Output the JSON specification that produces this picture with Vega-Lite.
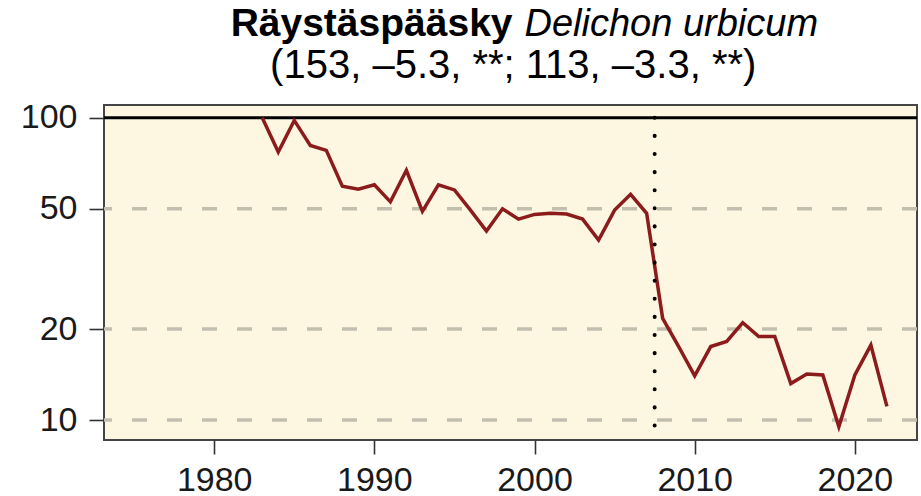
{
  "$schema": "https://vega.github.io/schema/vega-lite/v6.json",
  "autosize": {"type": "none"},
  "width": 813,
  "height": 335,
  "padding": {"left": 104, "top": 105, "right": 4, "bottom": 56},
  "background": "white",
  "config": {
    "view": {"fill": "#fdf7e2", "stroke": "#454545", "strokeWidth": 2},
    "font": "Liberation Sans",
    "axis": {
      "grid": false,
      "domain": false,
      "labelFont": "Liberation Sans",
      "labelFontSize": 34,
      "labelColor": "#1a1a1a",
      "tickColor": "#333333",
      "tickWidth": 1.6,
      "title": null
    }
  },
  "layer": [
    {
      "data": {"values": [{"v": 50}, {"v": 20}, {"v": 10}]},
      "mark": {"type": "rule", "color": "#c2bfae", "strokeWidth": 3.5, "strokeDash": [15, 20]},
      "encoding": {"y": {"field": "v", "type": "quantitative"}}
    },
    {
      "data": {"values": [{"v": 100}]},
      "mark": {"type": "rule", "color": "#000000", "strokeWidth": 3},
      "encoding": {"y": {"field": "v", "type": "quantitative"}}
    },
    {
      "data": {"values": [
        {"year": 1983, "index": 100},
        {"year": 1984, "index": 77},
        {"year": 1985, "index": 98},
        {"year": 1986, "index": 81},
        {"year": 1987, "index": 78},
        {"year": 1988, "index": 59.4},
        {"year": 1989, "index": 58},
        {"year": 1990, "index": 60},
        {"year": 1991, "index": 52.7},
        {"year": 1992, "index": 67},
        {"year": 1993, "index": 49},
        {"year": 1994, "index": 60},
        {"year": 1995, "index": 57.7},
        {"year": 1996, "index": 49.5},
        {"year": 1997, "index": 42.2},
        {"year": 1998, "index": 50},
        {"year": 1999, "index": 46.2},
        {"year": 2000, "index": 47.9},
        {"year": 2001, "index": 48.3},
        {"year": 2002, "index": 48},
        {"year": 2003, "index": 46.2},
        {"year": 2004, "index": 39.4},
        {"year": 2005, "index": 49.5},
        {"year": 2006, "index": 55.8},
        {"year": 2007, "index": 48.3},
        {"year": 2008, "index": 21.7},
        {"year": 2009, "index": 17.5},
        {"year": 2010, "index": 14},
        {"year": 2011, "index": 17.5},
        {"year": 2012, "index": 18.2},
        {"year": 2013, "index": 21},
        {"year": 2014, "index": 18.9},
        {"year": 2015, "index": 18.9},
        {"year": 2016, "index": 13.2},
        {"year": 2017, "index": 14.2},
        {"year": 2018, "index": 14.1},
        {"year": 2019, "index": 9.5},
        {"year": 2020, "index": 14.1},
        {"year": 2021, "index": 17.7},
        {"year": 2022, "index": 11.1}
      ]},
      "mark": {"type": "line", "color": "#8c1c1c", "strokeWidth": 3.5, "strokeJoin": "miter"},
      "encoding": {
        "x": {
          "field": "year", "type": "quantitative",
          "scale": {"domain": [1973.12, 2023.88], "nice": false, "zero": false},
          "axis": {"values": [1980, 1990, 2000, 2010, 2020], "format": "d", "tickSize": 14, "labelPadding": 9, "labelFlush": false}
        },
        "y": {
          "field": "index", "type": "quantitative",
          "scale": {"type": "log", "domain": [8.59, 110.2], "nice": false},
          "axis": {"values": [10, 20, 50, 100], "format": "d", "tickSize": 15, "labelPadding": 12}
        }
      }
    },
    {
      "data": {"values": [{"year": 2007.5, "lo": 8.59, "hi": 100}]},
      "mark": {"type": "rule", "color": "#000000", "strokeWidth": 4, "strokeDash": [0.1, 18], "strokeCap": "round"},
      "encoding": {
        "x": {"field": "year", "type": "quantitative"},
        "y": {"field": "hi", "type": "quantitative"},
        "y2": {"field": "lo"}
      }
    },
    {
      "data": {"values": [{"t": "Räystäspääsky"}]},
      "mark": {"type": "text", "font": "Liberation Sans", "fontWeight": "bold", "fontSize": 39, "align": "right", "baseline": "alphabetic", "dx": -6, "color": "#000000"},
      "encoding": {"text": {"field": "t"}, "x": {"datum": 1999}, "y": {"datum": 186.3}}
    },
    {
      "data": {"values": [{"t": "Delichon urbicum"}]},
      "mark": {"type": "text", "font": "Liberation Sans", "fontStyle": "italic", "fontSize": 38, "align": "left", "baseline": "alphabetic", "dx": 6, "color": "#000000"},
      "encoding": {"text": {"field": "t"}, "x": {"datum": 1999}, "y": {"datum": 186.3}}
    },
    {
      "data": {"values": [{"t": "(153, –5.3, **; 113, –3.3, **)"}]},
      "mark": {"type": "text", "font": "Liberation Sans", "fontSize": 40, "align": "center", "baseline": "alphabetic", "color": "#000000"},
      "encoding": {"text": {"field": "t"}, "x": {"datum": 1998.67}, "y": {"datum": 135.3}}
    }
  ]
}
